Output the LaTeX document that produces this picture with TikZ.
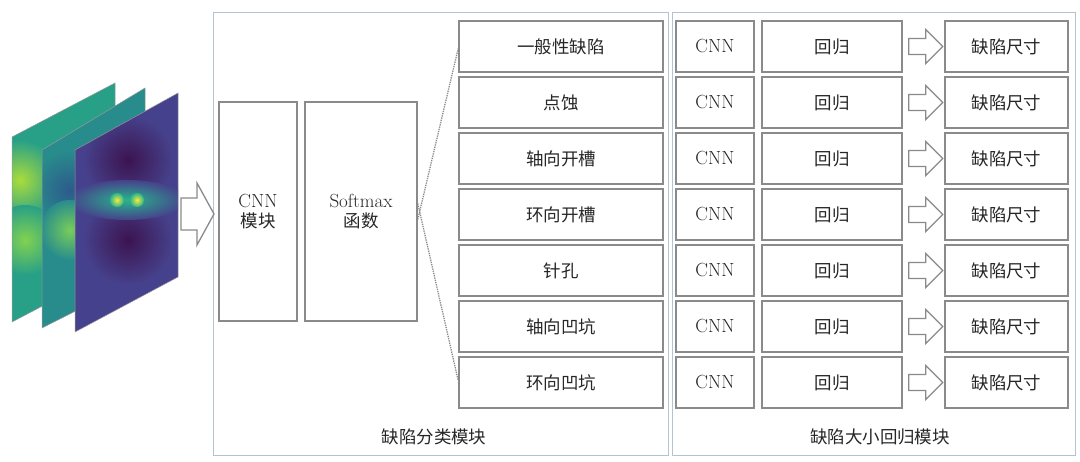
\documentclass[tikz,border=0pt]{standalone}
\usepackage{fontspec}
\newfontfamily\cjkf{Noto Sans CJK SC}[Scale=0.92]
\usetikzlibrary{calc}
\definecolor{frame}{HTML}{B4C3CF}
\definecolor{bx}{HTML}{8A8A8A}
\begin{document}
\begin{tikzpicture}[x=1pt,y=-1pt,
  box/.style={draw=bx,line width=1.6pt,fill=white,inner sep=0pt},
  txt/.style={font=\fontsize{19}{22}\selectfont,text=black!85},
  cjk/.style={font=\fontsize{19}{22}\selectfont\cjkf},
  fatarrow/.style={draw=bx,line width=1.3pt,fill=white,line join=miter}]
\useasboundingbox (0,0) rectangle (1080,462);
% frames
\node[draw=frame,line width=1.3pt,minimum width=455pt,minimum height=443pt,anchor=north west] (lf) at (213,12) {};
\node[draw=frame,line width=1.3pt,minimum width=403pt,minimum height=443pt,anchor=north west] (rf) at (672,12) {};
\node[txt,cjk] (lfl) at (434,437) {缺陷分类模块};
\node[txt,cjk] (rfl) at (880,437) {缺陷大小回归模块};
% sheets
\begin{scope}
\clip (12,137) -- (115,83) -- (115,268) -- (12,322) -- cycle;
\fill[color={rgb,255:red,40;green,160;blue,135}] (0,70) rectangle (130,330);
\shade[inner color={rgb,255:red,170;green,220;blue,60},outer color={rgb,255:red,40;green,160;blue,135}] (20,180) circle (40);
\shade[inner color={rgb,255:red,130;green,210;blue,80},outer color={rgb,255:red,40;green,160;blue,135}] (25,240) circle (35);
\end{scope}
\draw[black!40,line width=0.5pt] (12,137) -- (115,83) -- (115,268) -- (12,322) -- cycle;
\begin{scope}
\clip (42,150) -- (145,88) -- (145,276) -- (42,328) -- cycle;
\fill[color={rgb,255:red,40;green,140;blue,140}] (30,80) rectangle (150,340);
\shade[inner color={rgb,255:red,45;green,90;blue,140},outer color={rgb,255:red,40;green,140;blue,140}] (70,190) circle (40);
\shade[inner color={rgb,255:red,120;green,205;blue,90},outer color={rgb,255:red,40;green,140;blue,140}] (70,230) circle (30);
\end{scope}
\draw[black!40,line width=0.5pt] (42,150) -- (145,88) -- (145,276) -- (42,328) -- cycle;
\begin{scope}
\clip (75,150) -- (178,93) -- (178,277) -- (75,332) -- cycle;
\fill[color={rgb,255:red,70;green,65;blue,140}] (60,80) rectangle (190,340);
\shade[inner color={rgb,255:red,60;green,20;blue,80},outer color={rgb,255:red,70;green,65;blue,140}] (128,160) circle (45);
\shade[inner color={rgb,255:red,60;green,20;blue,80},outer color={rgb,255:red,70;green,65;blue,140}] (128,240) circle (45);
\shade[inner color={rgb,255:red,40;green,180;blue,140},outer color={rgb,255:red,70;green,65;blue,140}] (127,200) ellipse (60 and 20);
\shade[inner color={rgb,255:red,250;green,235;blue,60},outer color={rgb,255:red,40;green,180;blue,140}] (117,200) circle (7);
\shade[inner color={rgb,255:red,250;green,235;blue,60},outer color={rgb,255:red,40;green,180;blue,140}] (137,200) circle (7);
\end{scope}
\draw[black!40,line width=0.5pt] (75,150) -- (178,93) -- (178,277) -- (75,332) -- cycle;
% big arrow
\coordinate (a0) at (181,214);
\draw[fatarrow] ($(a0)+(0,-16)$) -- ++(16,0) -- ++(0,-15) -- ++(17,31) -- ++(-17,31) -- ++(0,-15) -- ++(-16,0) -- cycle;
% cnn softmax
\node[box,txt,minimum width=78pt,minimum height=219pt,align=center] (cnn) at (258,211.5) {CNN\\[-2pt]{\cjkf 模块}};
\node[box,txt,minimum width=112pt,minimum height=219pt,align=center] (sm) at (361,211.5) {Softmax\\[-2pt]{\cjkf 函数}};
% rows
\foreach \i/\t in {1/一般性缺陷,2/点蚀,3/轴向开槽,4/环向开槽,5/针孔,6/轴向凹坑,7/环向凹坑}{
  \pgfmathsetmacro{\y}{46.5+(\i-1)*56}
  \node[box,txt,cjk,minimum width=204pt,minimum height=51pt] (c\i) at (561,\y) {\t};
  \node[box,txt,minimum width=78pt,minimum height=51pt] (n\i) at (715,\y) {CNN};
  \node[box,txt,cjk,minimum width=140pt,minimum height=51pt] (r\i) at (832,\y) {回归};
  \node[box,txt,cjk,minimum width=123pt,minimum height=51pt] (s\i) at (1006.5,\y) {缺陷尺寸};
  \draw[fatarrow] ($(r\i.east)+(6,-8)$) -- ++(17,0) -- ++(0,-9) -- ++(17,17) -- ++(-17,17) -- ++(0,-9) -- ++(-17,0) -- cycle;
}
\draw[bx,densely dotted,line width=1.3pt] ([yshift=-8pt]sm.east) -- ([yshift=-2pt]c1.west);
\draw[bx,densely dotted,line width=1.3pt] ([yshift=8pt]sm.east) -- ([yshift=2pt]c7.west);
\end{tikzpicture}
\end{document}
